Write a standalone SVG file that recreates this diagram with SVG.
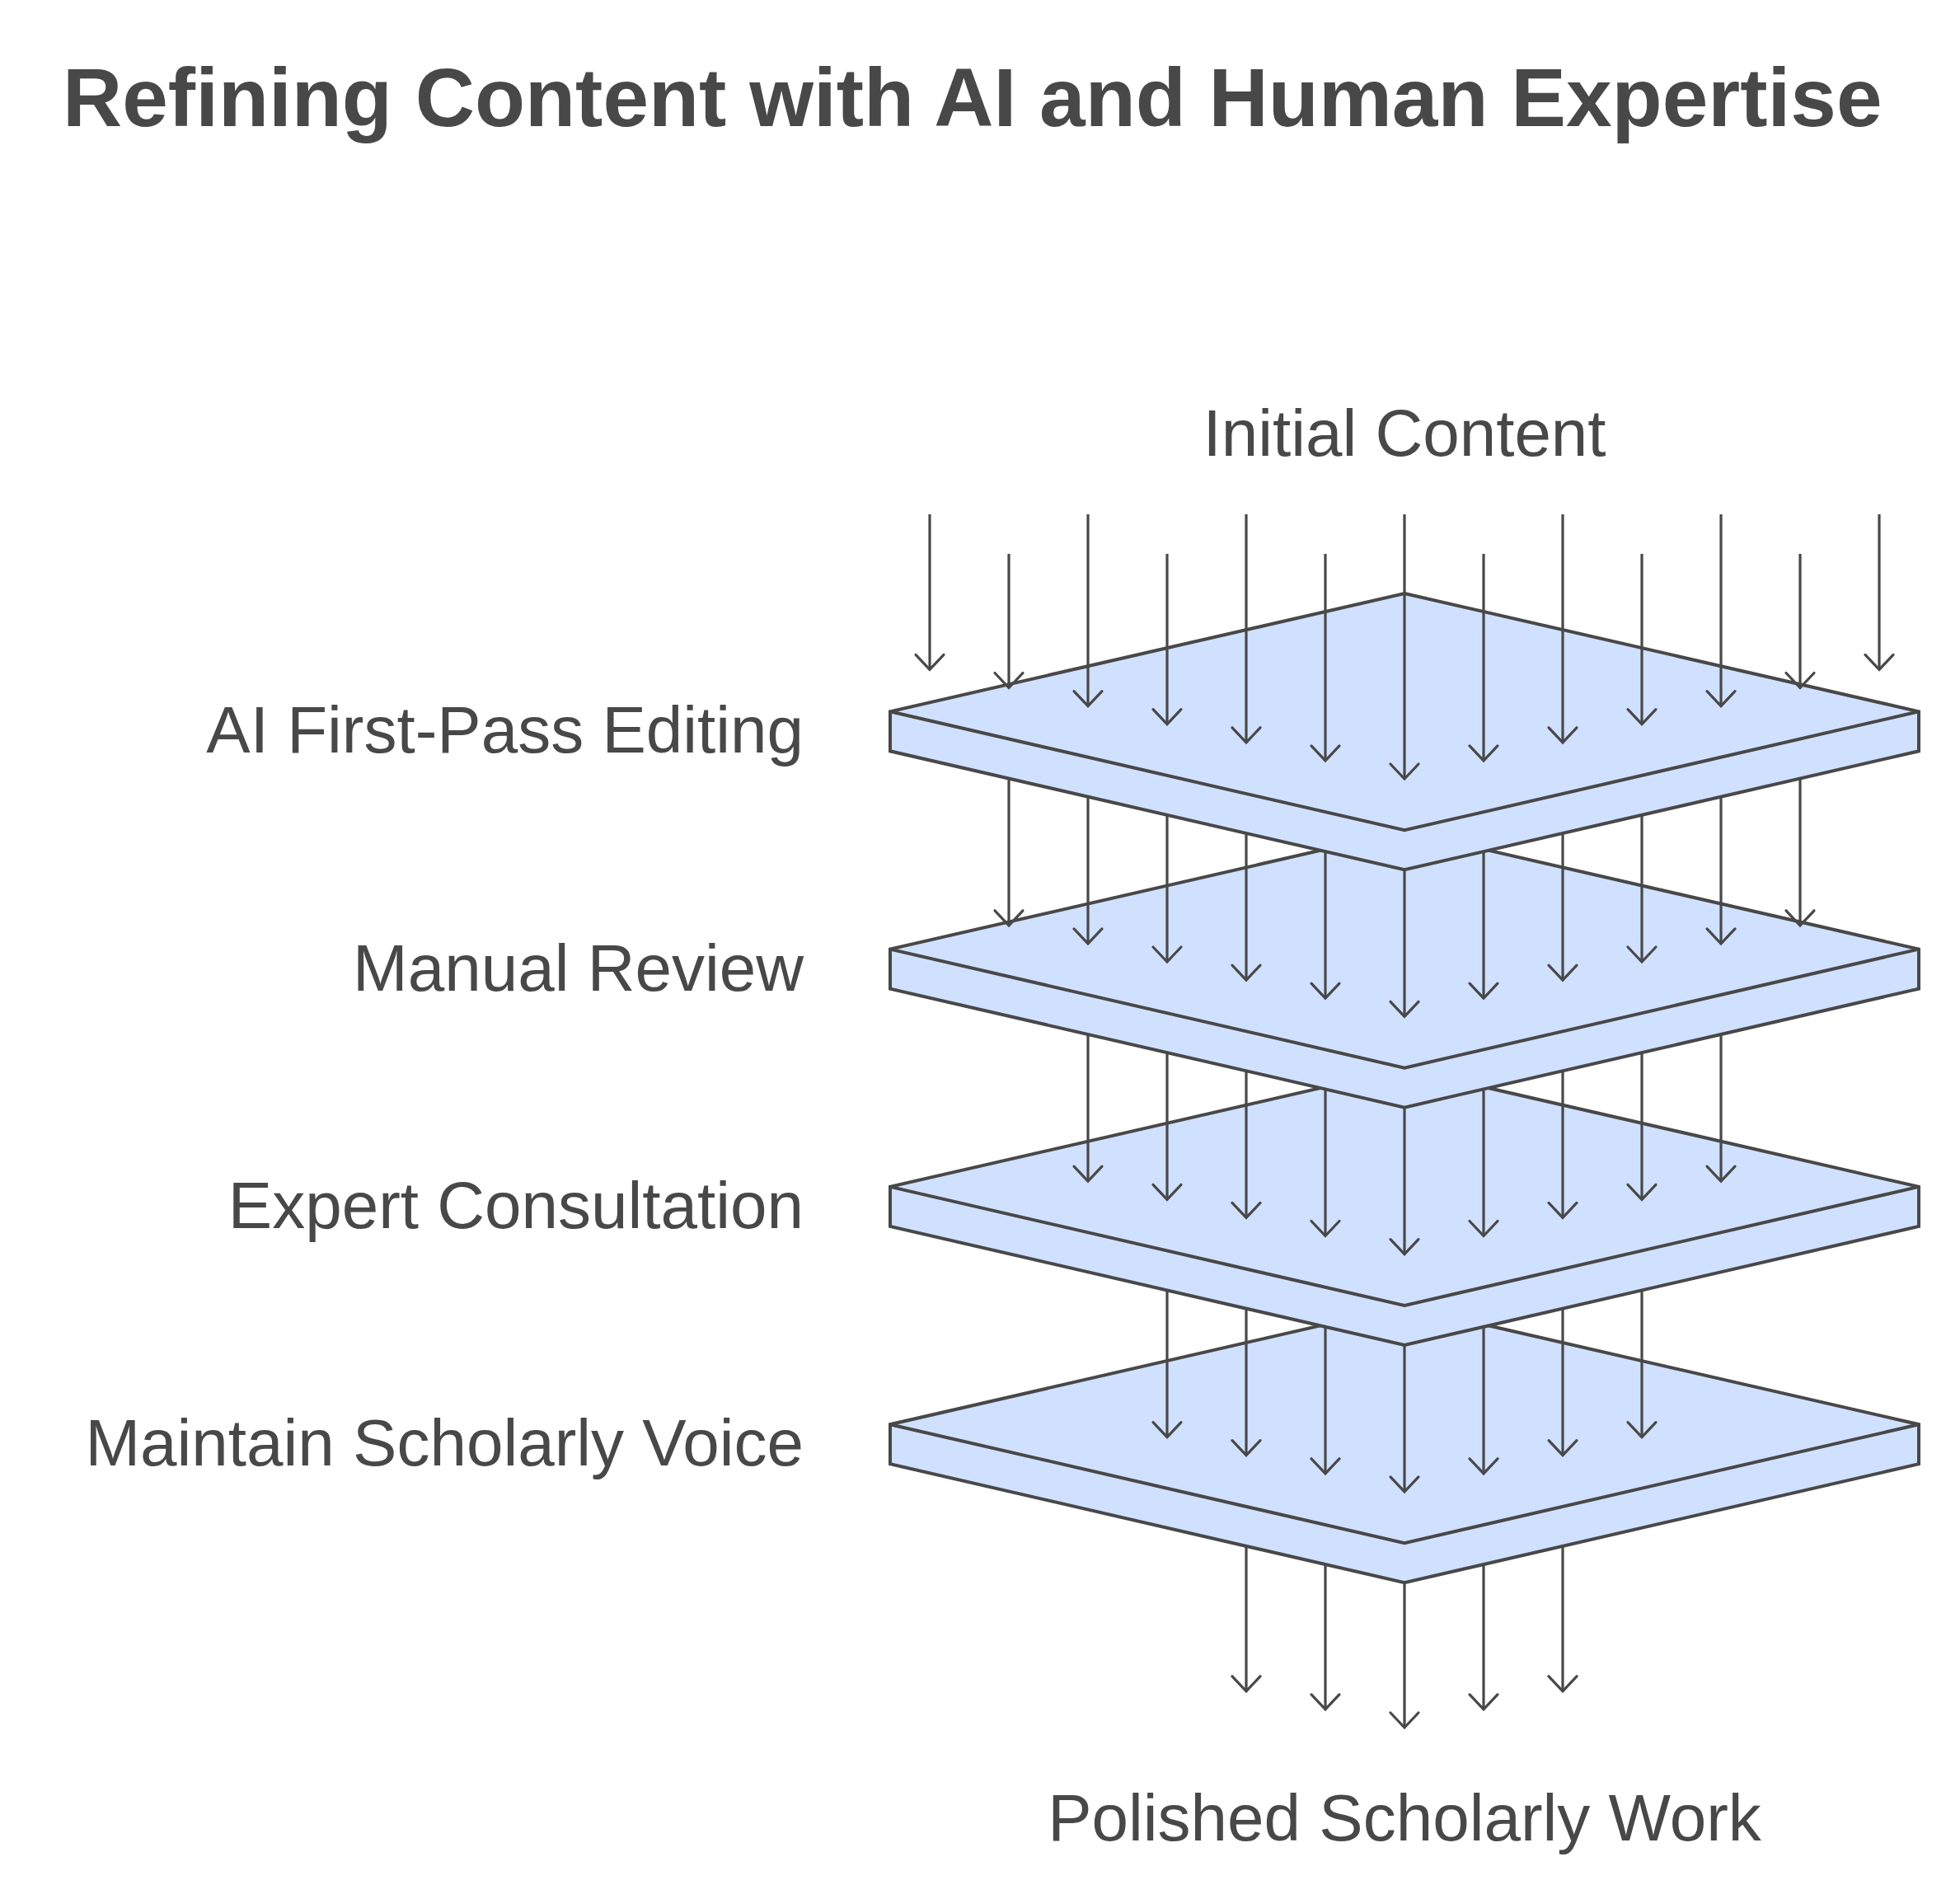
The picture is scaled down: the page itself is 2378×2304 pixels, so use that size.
<svg xmlns="http://www.w3.org/2000/svg" width="2378" height="2304" viewBox="0 0 2378 2304">
  <defs>
    <style>
      .slab { fill: #D0E0FF; stroke: #484848; stroke-width: 4; stroke-linejoin: miter; }
      .edge { fill: none; stroke: #484848; stroke-width: 4; stroke-linejoin: miter; }
      .lbl { font-family: "Liberation Sans", Arial, sans-serif; font-size: 80px; fill: #484848; }
      .title { font-family: "Liberation Sans", Arial, sans-serif; font-size: 100px; font-weight: bold; fill: #484848; }
      .arr line { stroke: #484848; stroke-width: 3.2; marker-end: url(#ah); }
    </style>
    <marker id="ah" markerUnits="userSpaceOnUse" markerWidth="40" markerHeight="40" refX="0" refY="0" orient="auto" overflow="visible">
      <path d="M-18,-17 L0,0 L-18,17" fill="none" stroke="#484848" stroke-width="3.2" stroke-linecap="round" stroke-linejoin="miter"/>
    </marker>
  </defs>
  <rect width="2378" height="2304" fill="#FFFFFF"/>
  <text class="title" x="76" y="153">Refining Content with AI and Human Expertise</text>

  <g id="initial-content">
    <text class="lbl" x="1704" y="553" text-anchor="middle">Initial Content</text>
  </g>
  <g id="polished-work">
    <text class="lbl" x="1704" y="2233" text-anchor="middle">Polished Scholarly Work</text>
  </g>

  <g id="maintain-voice">
    <polygon class="slab" points="1704,1584.9 2328,1728.2 2328,1776.2 1704,1920.2 1080,1776.2 1080,1728.2"/>
    <polyline class="edge" points="1080,1728.2 1704,1872.2 2328,1728.2"/>
    <text class="lbl" x="975" y="1778" text-anchor="end">Maintain Scholarly Voice</text>
  </g>
  <g id="expert-consultation">
    <polygon class="slab" points="1704,1296.6 2328,1439.9 2328,1487.9 1704,1631.9 1080,1487.9 1080,1439.9"/>
    <polyline class="edge" points="1080,1439.9 1704,1583.9 2328,1439.9"/>
    <text class="lbl" x="975" y="1490" text-anchor="end">Expert Consultation</text>
  </g>
  <g id="manual-review">
    <polygon class="slab" points="1704,1008.3 2328,1151.6 2328,1199.6 1704,1343.6 1080,1199.6 1080,1151.6"/>
    <polyline class="edge" points="1080,1151.6 1704,1295.6 2328,1151.6"/>
    <text class="lbl" x="975" y="1201.6" text-anchor="end">Manual Review</text>
  </g>
  <g id="ai-first-pass">
    <polygon class="slab" points="1704,720 2328,863.3 2328,911.3 1704,1055.3 1080,911.3 1080,863.3"/>
    <polyline class="edge" points="1080,863.3 1704,1007.3 2328,863.3"/>
    <text class="lbl" x="975" y="913.3" text-anchor="end">AI First-Pass Editing</text>
  </g>

  <g id="connectors" class="arr">
    <line x1="1128" y1="624" x2="1128" y2="812.4"/>
    <line x1="1224" y1="672" x2="1224" y2="834.5"/>
    <line x1="1320" y1="624" x2="1320" y2="856.6"/>
    <line x1="1416" y1="672" x2="1416" y2="878.7"/>
    <line x1="1512" y1="624" x2="1512" y2="900.8"/>
    <line x1="1608" y1="672" x2="1608" y2="922.9"/>
    <line x1="1704" y1="624" x2="1704" y2="945"/>
    <line x1="1800" y1="672" x2="1800" y2="922.9"/>
    <line x1="1896" y1="624" x2="1896" y2="900.8"/>
    <line x1="1992" y1="672" x2="1992" y2="878.7"/>
    <line x1="2088" y1="624" x2="2088" y2="856.6"/>
    <line x1="2184" y1="672" x2="2184" y2="834.5"/>
    <line x1="2280" y1="624" x2="2280" y2="812.4"/>

    <line x1="1224" y1="944.9" x2="1224" y2="1122.8"/>
    <line x1="1320" y1="967" x2="1320" y2="1144.9"/>
    <line x1="1416" y1="989.1" x2="1416" y2="1167"/>
    <line x1="1512" y1="1011.1" x2="1512" y2="1189.1"/>
    <line x1="1608" y1="1033.2" x2="1608" y2="1211.2"/>
    <line x1="1704" y1="1055.3" x2="1704" y2="1233.3"/>
    <line x1="1800" y1="1033.2" x2="1800" y2="1211.2"/>
    <line x1="1896" y1="1011.1" x2="1896" y2="1189.1"/>
    <line x1="1992" y1="989.1" x2="1992" y2="1167"/>
    <line x1="2088" y1="967" x2="2088" y2="1144.9"/>
    <line x1="2184" y1="944.9" x2="2184" y2="1122.8"/>

    <line x1="1320" y1="1255.3" x2="1320" y2="1433.2"/>
    <line x1="1416" y1="1277.4" x2="1416" y2="1455.3"/>
    <line x1="1512" y1="1299.4" x2="1512" y2="1477.4"/>
    <line x1="1608" y1="1321.5" x2="1608" y2="1499.5"/>
    <line x1="1704" y1="1343.6" x2="1704" y2="1521.6"/>
    <line x1="1800" y1="1321.5" x2="1800" y2="1499.5"/>
    <line x1="1896" y1="1299.4" x2="1896" y2="1477.4"/>
    <line x1="1992" y1="1277.4" x2="1992" y2="1455.3"/>
    <line x1="2088" y1="1255.3" x2="2088" y2="1433.2"/>

    <line x1="1416" y1="1565.7" x2="1416" y2="1743.6"/>
    <line x1="1512" y1="1587.7" x2="1512" y2="1765.7"/>
    <line x1="1608" y1="1609.8" x2="1608" y2="1787.8"/>
    <line x1="1704" y1="1631.9" x2="1704" y2="1809.9"/>
    <line x1="1800" y1="1609.8" x2="1800" y2="1787.8"/>
    <line x1="1896" y1="1587.7" x2="1896" y2="1765.7"/>
    <line x1="1992" y1="1565.7" x2="1992" y2="1743.6"/>

    <line x1="1512" y1="1876" x2="1512" y2="2051.8"/>
    <line x1="1608" y1="1898.1" x2="1608" y2="2073.9"/>
    <line x1="1704" y1="1920.2" x2="1704" y2="2096"/>
    <line x1="1800" y1="1898.1" x2="1800" y2="2073.9"/>
    <line x1="1896" y1="1876" x2="1896" y2="2051.8"/>
  </g>
</svg>
